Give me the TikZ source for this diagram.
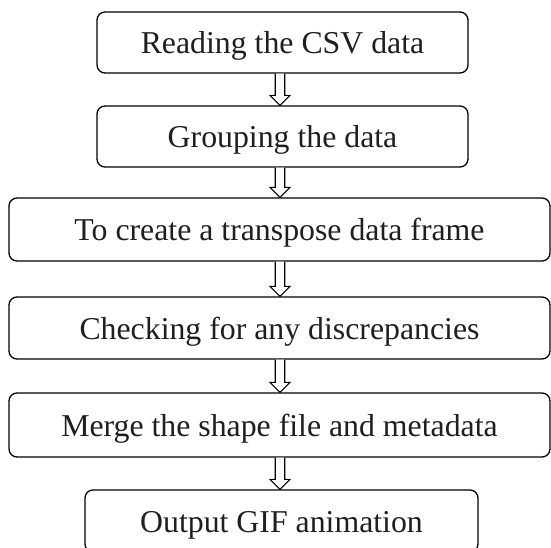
\documentclass[tikz,border=0pt]{standalone}
\usepackage{fontspec}
\setmainfont{Liberation Serif}
\usetikzlibrary{calc}
\tikzset{
  stepbox/.style={draw=black, line width=1.3pt, rounded corners=8pt, fill=white,
    inner sep=0pt, text=black!88, font=\fontsize{31.8}{38}\selectfont,
    text height=25pt, text depth=3pt},
  blockarr/.style={draw=black, line width=1.1pt, fill=white, line join=miter}
}
\newcommand{\blockarrow}[2]{%
  \draw[blockarr] ($(#1.south -| ax)+(-4.75,0)$) -- ($(#2.north -| ax)+(-4.75,-10)$)
    -- ($(#2.north -| ax)+(-10,-10)$) -- (#2.north -| ax)
    -- ($(#2.north -| ax)+(10,-10)$) -- ($(#2.north -| ax)+(4.75,-10)$)
    -- ($(#1.south -| ax)+(4.75,0)$);%
}
\begin{document}
\begin{tikzpicture}[x=1pt,y=-1pt]
\clip (0,0) rectangle (551,548);
\fill[white] (0,0) rectangle (551,548);
\coordinate (ax) at (280,0);
\node[stepbox, minimum width=371pt, minimum height=61pt] (b1) at (282.5,42.5) {Reading the CSV data};
\node[stepbox, minimum width=371pt, minimum height=61pt] (b2) at (282.5,136.5) {Grouping the data};
\node[stepbox, minimum width=541pt, minimum height=63pt] (b3) at (279.5,229.5) {To create a transpose data frame};
\node[stepbox, minimum width=541pt, minimum height=62pt] (b4) at (279.5,328) {Checking for any discrepancies};
\node[stepbox, minimum width=541pt, minimum height=64pt] (b5) at (279.5,425) {Merge the shape file and metadata};
\node[stepbox, minimum width=393pt, minimum height=62pt] (b6) at (281.5,521) {Output GIF animation};
\blockarrow{b1}{b2}
\blockarrow{b2}{b3}
\blockarrow{b3}{b4}
\blockarrow{b4}{b5}
\blockarrow{b5}{b6}
\end{tikzpicture}
\end{document}
